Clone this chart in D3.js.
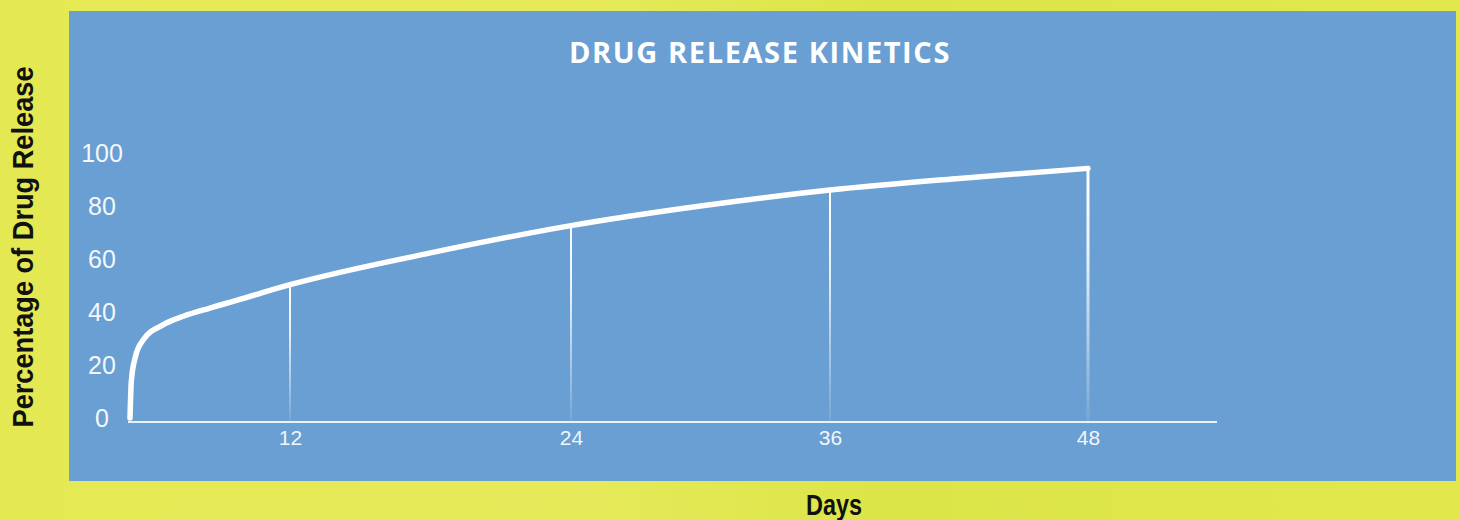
<!DOCTYPE html>
<html>
<head>
<meta charset="utf-8">
<script src="https://cdn.jsdelivr.net/npm/d3@7"></script>
<style>
  html, body { margin: 0; padding: 0; background: #dfe64a; }
  svg { display: block; }
</style>
</head>
<body>
<svg id="canvas" width="1459" height="520"></svg>
<script>
// data
let days = [0, 0.1, 0.4, 1, 2.5, 4, 6, 8, 12, 18, 24, 30, 36, 42, 48]
let released = [0, 14, 23, 29.5, 35.2, 38.4, 41.5, 44.4, 50.3, 62.3, 72.6, 80, 86, 90.4, 94.2]
let xTicks = [12, 24, 36, 48]
let yTicks = [0, 20, 40, 60, 80, 100]
let dropDays = [12, 24, 36, 48]

let title = "DRUG RELEASE KINETICS"
let xTitle = "Days"
let yTitle = "Percentage of Drug Release"

let canvas = d3.select("#canvas")

let points = days.map((d, i) => ({ day: d, value: released[i] }))

// the day axis in the picture is not evenly spaced, so piecewise scale
let x = d3.scaleLinear()
          .domain([0, 12, 24, 36, 48, 54])
          .range([130, 290, 571, 830, 1088, 1217])

let y = d3.scaleLinear()
          .domain([0, 100])
          .range([418, 153])

let defs = canvas.append("defs")

let bg = defs.append("linearGradient")
             .attr("id", "bg")
             .attr("x1", 0).attr("y1", 0).attr("x2", 1).attr("y2", 0)
bg.append("stop").attr("offset", "0%").attr("stop-color", "#e4e953")
bg.append("stop").attr("offset", "40%").attr("stop-color", "#e6ea5a")
bg.append("stop").attr("offset", "60%").attr("stop-color", "#dbe548")
bg.append("stop").attr("offset", "100%").attr("stop-color", "#e2e84c")

let fade = defs.append("linearGradient")
               .attr("id", "fade")
               .attr("x1", 0).attr("y1", 0).attr("x2", 0).attr("y2", 1)
fade.append("stop").attr("offset", "0%").attr("stop-color", "#ffffff").attr("stop-opacity", 1)
fade.append("stop").attr("offset", "35%").attr("stop-color", "#ffffff").attr("stop-opacity", 0.85)
fade.append("stop").attr("offset", "100%").attr("stop-color", "#ffffff").attr("stop-opacity", 0.08)

canvas.append("rect")
      .attr("width", 1459)
      .attr("height", 520)
      .attr("fill", "url(#bg)")

// blue panel
canvas.append("rect")
      .attr("x", 69)
      .attr("y", 11)
      .attr("width", 1387)
      .attr("height", 470)
      .attr("fill", "#699fd2")

canvas.append("text")
      .text(title)
      .attr("x", 760)
      .attr("y", 63)
      .attr("text-anchor", "middle")
      .attr("fill", "#ffffff")
      .style("font-family", "'Open Sans', sans-serif")
      .style("font-weight", 700)
      .style("font-size", "29px")
      .style("letter-spacing", "1.6px")

// drop lines from the curve down to the axis
let valueAt = day => released[days.indexOf(day)]

canvas.selectAll(".drop")
      .data(dropDays)
      .enter()
      .append("rect")
      .attr("class", "drop")
      .attr("x", d => x(d) - (d === 48 ? 1.5 : 1))
      .attr("y", d => y(valueAt(d)))
      .attr("width", d => d === 48 ? 3 : 2)
      .attr("height", d => y(0) + 4 - y(valueAt(d)))
      .attr("fill", "url(#fade)")

// x axis
let xAxis = d3.axisBottom(x)
              .tickValues(xTicks)
              .tickSize(0)
              .tickSizeOuter(0)
              .tickPadding(8)

let gx = canvas.append("g")
               .attr("transform", "translate(0, 422)")
               .call(xAxis)

gx.select(".domain")
  .attr("stroke", "#e9f1fb")
  .attr("stroke-width", 2)
  .attr("d", "M128,0H1217")

gx.selectAll("text")
  .attr("fill", "#f2f6fb")
  .style("font-family", "'Liberation Sans Narrow', 'Liberation Sans', Arial, sans-serif")
  .style("font-size", "21px")

// y axis, labels only
let yAxis = d3.axisLeft(y)
              .tickValues(yTicks)
              .tickSize(0)

let gy = canvas.append("g")
               .call(yAxis)

gy.select(".domain").remove()

gy.selectAll("text")
  .attr("x", 102)
  .attr("dy", "0.35em")
  .attr("text-anchor", "middle")
  .attr("fill", "#f4f7fb")
  .style("font-family", "'Liberation Sans', Arial, sans-serif")
  .style("font-size", "25px")

// release curve
let line = d3.line()
             .x(d => x(d.day))
             .y(d => y(d.value))
             .curve(d3.curveMonotoneX)

canvas.append("path")
      .datum(points)
      .attr("d", line)
      .attr("fill", "none")
      .attr("stroke", "#ffffff")
      .attr("stroke-width", 5.5)
      .attr("stroke-linecap", "round")
      .attr("stroke-linejoin", "round")

// axis titles
canvas.append("text")
      .text(xTitle)
      .attr("x", 834)
      .attr("y", 515)
      .attr("text-anchor", "middle")
      .attr("textLength", 56)
      .attr("lengthAdjust", "spacingAndGlyphs")
      .attr("fill", "#111111")
      .style("font-family", "'Liberation Sans Narrow', 'Liberation Sans', Arial, sans-serif")
      .style("font-weight", 700)
      .style("font-size", "30px")

canvas.append("text")
      .text(yTitle)
      .attr("transform", "translate(33, 247) rotate(-90)")
      .attr("text-anchor", "middle")
      .attr("textLength", 361)
      .attr("lengthAdjust", "spacingAndGlyphs")
      .attr("fill", "#111111")
      .style("font-family", "'Liberation Sans Narrow', 'Liberation Sans', Arial, sans-serif")
      .style("font-weight", 700)
      .style("font-size", "30px")
</script>
</body>
</html>
